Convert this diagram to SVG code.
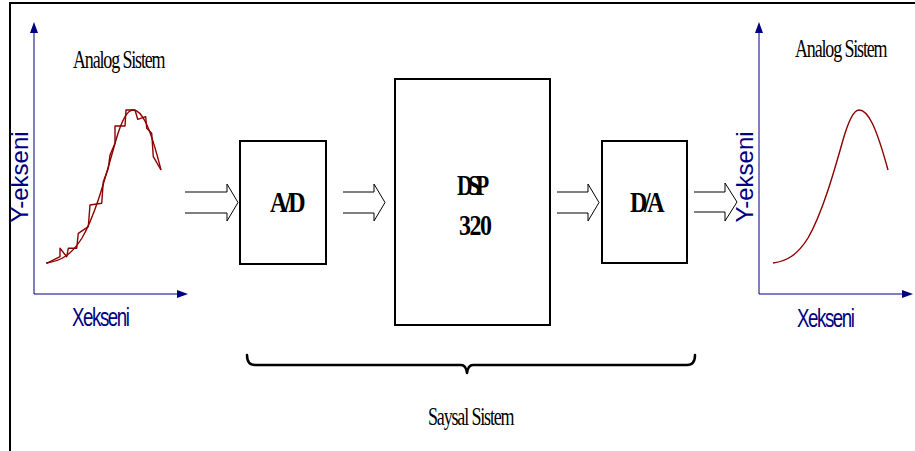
<svg xmlns="http://www.w3.org/2000/svg" width="915" height="451" viewBox="0 0 915 451">
  <style>
    .frame { fill: none; stroke: #000; stroke-width: 2; }
    .box { fill: #fff; stroke: #000; stroke-width: 2; }
    .blk { fill: none; stroke: #000; stroke-width: 1; stroke-linejoin: miter; }
    .axis { fill: none; stroke: #000080; stroke-width: 1; }
    .head { fill: #000080; }
    .sig { fill: none; stroke: #8b0000; stroke-width: 1.4; stroke-linejoin: round; }
    .title { font-family: "Liberation Serif", "Times New Roman", serif; font-size: 25px; letter-spacing: -1.6px; fill: #000; }
    .lbl { font-family: "Liberation Serif", "Times New Roman", serif; font-size: 30px; font-weight: bold; fill: #000; }
    .ax { font-family: "Liberation Sans", Arial, sans-serif; fill: #000080; }
    .axx { font-size: 26px; letter-spacing: -2px; }
  </style>

  <!-- outer frame: top and left edges only -->
  <path class="frame" d="M915,3 H10 V451"/>

  <!-- input signal plot -->
  <g id="plot-in">
    <path class="axis" d="M34,30 V294 H180"/>
    <polygon class="head" points="34,22 30,33 38,33"/>
    <polygon class="head" points="188,294 177,290 177,298"/>
    <text class="ax" font-size="24" transform="translate(28,177) rotate(-90)" text-anchor="middle">Y-ekseni</text>
    <text class="ax axx" transform="translate(72,326) scale(0.72,1)">Xekseni</text>
    <text class="title" transform="translate(73,68) scale(0.72,1)">Analog Sistem</text>
    <path class="sig" d="M46,263 C62,261 72,254 82,238 C96,214 106,175 116,140 C122,119 128,110 133,110 C142,110 150,126 161,170"/>
    <polyline class="sig" stroke-width="1" points="46.7,263.3 60,256.7 60,248.3 66.7,256.7 68.3,248.3 76.7,248.3 78.3,233.3 88.3,226.7 90,205 101.7,203.3 103.3,181.7 108.3,168.3 110,155 115,143.3 115,126 125,126 126,110 135,110 137.7,119.3 145.7,116.7 146.7,128.3 151.7,133.3 153.3,156.7 161,170"/>
  </g>

  <!-- output signal plot -->
  <g id="plot-out">
    <path class="axis" d="M759,30 V294 H905"/>
    <polygon class="head" points="759,22 755,33 763,33"/>
    <polygon class="head" points="913,294 902,290 902,298"/>
    <text class="ax" font-size="24" transform="translate(753,177) rotate(-90)" text-anchor="middle">Y-ekseni</text>
    <text class="ax axx" transform="translate(797,327) scale(0.72,1)">Xekseni</text>
    <text class="title" transform="translate(795,57) scale(0.72,1)">Analog Sistem</text>
    <path class="sig" d="M773,263 C788,261 798,254 808,238 C822,214 834,172 843,140 C849,119 854,110 859,110 C868,110 876,126 888,170"/>
  </g>

  <!-- processing blocks -->
  <g id="ad">
    <rect class="box" x="240" y="141" width="86" height="123"/>
    <text class="lbl" font-size="31" letter-spacing="-3.6" transform="translate(270,212) scale(0.8,1)">A/D</text>
  </g>
  <g id="dsp">
    <rect class="box" x="395" y="79" width="155" height="246"/>
    <text class="lbl" letter-spacing="-6" transform="translate(457,195) scale(0.72,1)">DSP</text>
    <text class="lbl" letter-spacing="-1.9" transform="translate(459,235) scale(0.8,1)">320</text>
  </g>
  <g id="da">
    <rect class="box" x="602" y="141" width="85" height="122"/>
    <text class="lbl" font-size="31" letter-spacing="-4.2" transform="translate(630,212) scale(0.8,1)">D/A</text>
  </g>

  <!-- block arrows between stages -->
  <g id="connectors">
    <polyline class="blk" points="185,192 227,192 227,184 238,202.5 227,221 227,213 185,213"/>
    <polyline class="blk" points="343,192 374,192 374,184 385,202.5 374,221 374,213 343,213"/>
    <polyline class="blk" points="557,192 588,192 588,184 599,202.5 588,221 588,213 557,213"/>
    <polyline class="blk" points="694,192 725,192 725,183 737,202 725,221 725,212 694,212"/>
  </g>

  <!-- brace grouping the digital stages -->
  <g id="brace">
    <path fill="none" stroke="#000" stroke-width="2.5" stroke-linecap="round" stroke-linejoin="round"
          d="M247,355 Q247,365 255,365 H461 Q466,365 467,373 Q468,365 473,365 H687 Q695,365 695,355"/>
    <text class="title" letter-spacing="-0.4" transform="translate(428,425) scale(0.72,1)">Saysal Sistem</text>
  </g>
</svg>
